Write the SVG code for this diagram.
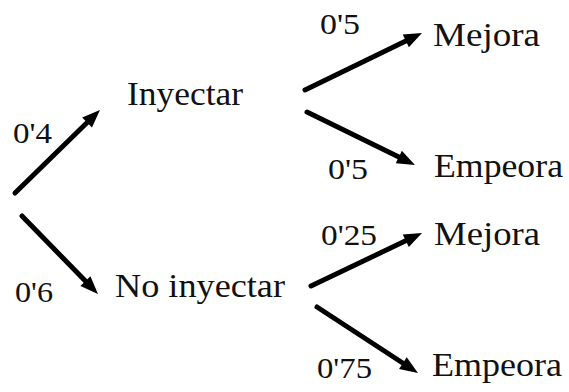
<svg xmlns="http://www.w3.org/2000/svg" width="569" height="392" viewBox="0 0 569 392">
<style>
.w{font-size:34px}
.n{font-size:30px}
.c line{stroke:#000;stroke-width:5;stroke-linecap:round;marker-end:url(#ah)}
</style>
<defs>
<marker id="ah" markerUnits="userSpaceOnUse" markerWidth="18" markerHeight="14" refX="8" refY="7" orient="auto" overflow="visible">
<path d="M0,0 L18,7 L0,14 z" fill="#000"/>
</marker>
</defs>
<rect width="569" height="392" fill="#fff"/>
<g class="c" id="connectors">
<line x1="15" y1="193" x2="92.8" y2="117.0"/>
<line x1="22" y1="216" x2="91.0" y2="286.8"/>
<line x1="305" y1="90" x2="413.0" y2="37.4"/>
<line x1="307" y1="112" x2="406.0" y2="160.6"/>
<line x1="311" y1="286" x2="413.0" y2="237.3"/>
<line x1="317" y1="307" x2="409.6" y2="367.5"/>
</g>
<g font-family="Liberation Serif, Times New Roman, serif" fill="#111">
<g id="inyectar"><text class="w" x="127" y="105" textLength="116" lengthAdjust="spacingAndGlyphs">Inyectar</text></g>
<g id="no-inyectar"><text class="w" x="115" y="297" textLength="170" lengthAdjust="spacingAndGlyphs">No inyectar</text></g>
<g id="mejora1"><text class="w" x="433" y="46" textLength="107" lengthAdjust="spacingAndGlyphs">Mejora</text></g>
<g id="empeora1"><text class="w" x="434" y="177" textLength="129" lengthAdjust="spacingAndGlyphs">Empeora</text></g>
<g id="mejora2"><text class="w" x="434" y="245" textLength="106" lengthAdjust="spacingAndGlyphs">Mejora</text></g>
<g id="empeora2"><text class="w" x="432" y="376" textLength="130" lengthAdjust="spacingAndGlyphs">Empeora</text></g>
<g id="labels">
<text class="n" x="13" y="143" textLength="39" lengthAdjust="spacingAndGlyphs">0'4</text>
<text class="n" x="15" y="302" textLength="38" lengthAdjust="spacingAndGlyphs">0'6</text>
<text class="n" x="320" y="34" textLength="40" lengthAdjust="spacingAndGlyphs">0'5</text>
<text class="n" x="328" y="179" textLength="40" lengthAdjust="spacingAndGlyphs">0'5</text>
<text class="n" x="321" y="245" textLength="56" lengthAdjust="spacingAndGlyphs">0'25</text>
<text class="n" x="317" y="378" textLength="55" lengthAdjust="spacingAndGlyphs">0'75</text>
</g>
</g>
</svg>
